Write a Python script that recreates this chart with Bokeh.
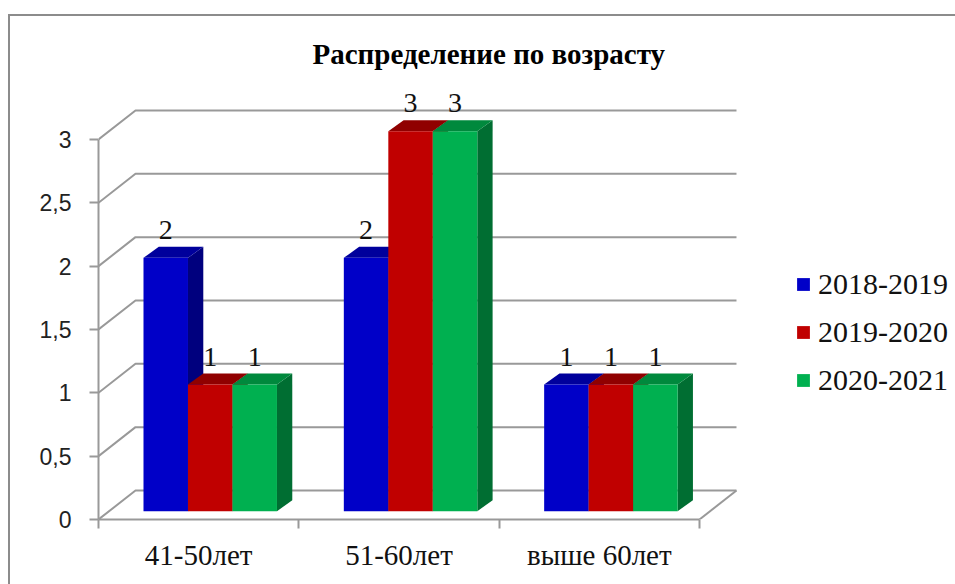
from bokeh.plotting import figure
from bokeh.models import (Range1d, FixedTicker, Legend, LegendItem, Title, InlineStyleSheet)
from bokeh.core.properties import value
from bokeh.embed import file_html
from bokeh.resources import INLINE

title_text = "Распределение по возрасту"
categories = ["41-50лет", "51-60лет", "выше 60лет"]
series_names = ["2018-2019", "2019-2020", "2020-2021"]
values_2018 = [2, 2, 1]
values_2019 = [1, 3, 1]
values_2020 = [1, 3, 1]
y_ticks = [0, 0.5, 1, 1.5, 2, 2.5, 3]
y_labels = ["0", "0,5", "1", "1,5", "2", "2,5", "3"]
front_colors = ["#0000C8", "#C00000", "#00B050"]
top_colors = ["#00009C", "#900000", "#00893D"]
side_colors = ["#00007E", "#7A0000", "#006E32"]

SERIF = "Liberation Serif"
GRID = "#999999"
# 3-D look, in data units
WALL_DX, WALL_DY = 0.1847, 0.229
BAR_DX, BAR_DY = 0.0764, 0.0868
BAR_X0, BAR_W, BAR_BASE = 0.2246, 0.2221, 0.0655
N = len(categories)

p = figure(width=955, height=584, output_backend="svg", toolbar_location=None,
           x_range=Range1d(0, 857 / 200.33), y_range=Range1d(0, 439 / 126.67),
           min_border_left=98, min_border_right=0, min_border_top=80, min_border_bottom=65,
           outline_line_color=None, background_fill_color="white", border_fill_color="white")
p.grid.visible = False

p.title = Title(text=title_text, text_font=SERIF, text_font_size="29px", text_font_style="bold",
                text_color="#000000", align="left", offset=214, standoff=21)

# outer chart border (runs off the page at the right and bottom)
p.stylesheets = [InlineStyleSheet(css="""
:host::after {
  content: ""; position: absolute; box-sizing: border-box; pointer-events: none;
  left: 8px; top: 14px; width: calc(100% - 8px); height: calc(100% - 14px);
  border-left: 2.5px solid #8C8C8C; border-top: 2.5px solid #8C8C8C;
}
""")]

# axes
ya = p.yaxis[0]
ya.ticker = FixedTicker(ticks=y_ticks)
ya.major_label_overrides = dict(zip(y_ticks, y_labels))
ya.bounds = (0, 3)
ya.axis_line_color = GRID
ya.axis_line_width = 2
ya.major_tick_line_color = GRID
ya.major_tick_line_width = 2
ya.major_tick_out = 9
ya.major_tick_in = 0
ya.minor_tick_line_color = None
ya.major_label_standoff = 18
ya.major_label_text_font = "Liberation Sans"
ya.major_label_text_font_size = "23px"
ya.major_label_text_color = "#222222"

xa = p.xaxis[0]
centers = [k + 0.5 for k in range(N)]
xa.ticker = FixedTicker(ticks=centers, minor_ticks=list(range(N + 1)))
xa.major_label_overrides = dict(zip(centers, categories))
xa.bounds = (0, N)
xa.axis_line_color = GRID
xa.axis_line_width = 2
xa.major_tick_line_color = None
xa.major_tick_out = 0
xa.major_tick_in = 0
xa.minor_tick_line_color = GRID
xa.minor_tick_line_width = 2
xa.minor_tick_out = 9
xa.minor_tick_in = 0
xa.major_label_standoff = 10
xa.major_label_text_font = SERIF
xa.major_label_text_font_size = "29px"
xa.major_label_text_color = "#111111"

# back wall lines and their diagonals
for t in y_ticks:
    p.line([0, WALL_DX, N + WALL_DX], [t, t + WALL_DY, t + WALL_DY], line_color=GRID, line_width=2)
p.line([N, N + WALL_DX], [0, WALL_DY], line_color=GRID, line_width=2)

# bars, left to right so that each covers the side of the one before it
all_values = [values_2018, values_2019, values_2020]
items = []
for k in range(N):
    for i, vals in enumerate(all_values):
        v = vals[k]
        x0 = k + BAR_X0 + i * BAR_W
        x1 = x0 + BAR_W
        b = BAR_BASE
        t = BAR_BASE + v
        p.patch([x1, x1 + BAR_DX, x1 + BAR_DX, x1], [b, b + BAR_DY, t + BAR_DY, t],
                fill_color=side_colors[i], line_color=None)
        p.patch([x0, x1, x1 + BAR_DX, x0 + BAR_DX], [t, t, t + BAR_DY, t + BAR_DY],
                fill_color=top_colors[i], line_color=None)
        r = p.quad(left=x0, right=x1, bottom=b, top=t, fill_color=front_colors[i], line_color=None)
        if k == 0:
            items.append(LegendItem(label=series_names[i], renderers=[r]))

# value labels
for i, vals in enumerate(all_values):
    xs = [k + BAR_X0 + (i + 0.5) * BAR_W for k in range(N)]
    ys = [BAR_BASE + v for v in vals]
    p.text(xs, ys, text=[str(v) for v in vals], text_font=value(SERIF), text_font_size="28px",
           text_align="center", text_baseline="alphabetic", y_offset=-28, text_color="#111111")

legend = Legend(items=items, location=(697, 122), orientation="vertical",
                background_fill_alpha=0, border_line_color=None,
                padding=0, margin=0, spacing=14, glyph_width=16, glyph_height=16,
                label_standoff=7, label_text_font=SERIF, label_text_font_size="30px",
                label_text_color="#111111")
p.add_layout(legend, "center")

open("out.html", "w").write(file_html(p, INLINE))
